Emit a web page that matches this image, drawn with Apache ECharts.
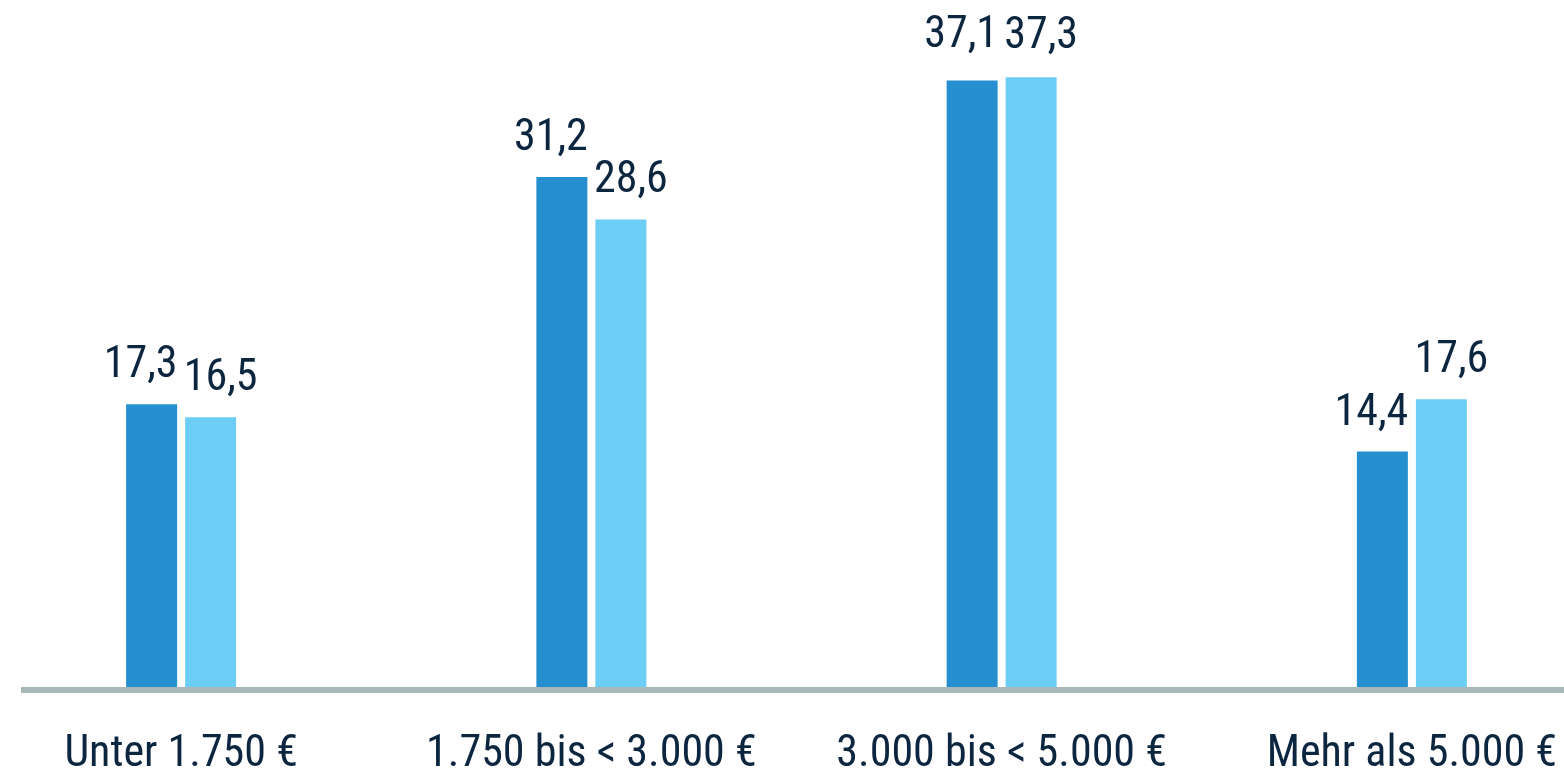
<!DOCTYPE html>
<html><head><meta charset="utf-8">
<script src="https://cdn.jsdelivr.net/npm/echarts@6/dist/echarts.min.js"></script>
<style>html,body{margin:0;padding:0;background:#fff}#main{width:1564px;height:777px}</style>
</head><body><div id="main"></div>
<script>
const categories = ['Unter 1.750 €', '1.750 bis < 3.000 €', '3.000 bis < 5.000 €', 'Mehr als 5.000 €'];
const seriesA = [17.3, 31.2, 37.1, 14.4];
const seriesB = [16.5, 28.6, 37.3, 17.6];

const FONT = '"Roboto Condensed", "Liberation Sans Narrow", Roboto, sans-serif';
const TXT = '#0c2640';
const fmt = p => String(p.value).replace('.', ',');

function items(arr, extra) {
  return arr.map((v, i) => extra[i] ? { value: v, label: { distance: extra[i] } } : v);
}

const chart = echarts.init(document.getElementById('main'), null, { renderer: 'canvas' });
chart.setOption({
  animation: false,
  grid: { left: -24, width: 1641, top: 33, bottom: 90, containLabel: false, outerBoundsMode: 'none' },
  xAxis: {
    type: 'category', data: categories,
    axisLine: { show: false }, axisTick: { show: false },
    axisLabel: { interval: 0, fontFamily: FONT, fontSize: 44, color: TXT, margin: 46 }
  },
  yAxis: { type: 'value', min: 0, max: 40, show: false, splitLine: { show: false } },
  series: [
    { type: 'bar', data: items(seriesA, [0, 0, 22, 0]), barWidth: 51, barGap: '15.7%',
      itemStyle: { color: '#258fd0' },
      label: { show: true, position: 'top', distance: 16, offset: [-11, 0], formatter: fmt, fontFamily: FONT, fontSize: 44, color: TXT } },
    { type: 'bar', data: items(seriesB, [0, 0, 18, 0]), barWidth: 51,
      itemStyle: { color: '#6ccef5' },
      label: { show: true, position: 'top', distance: 16, offset: [10, 0], formatter: fmt, fontFamily: FONT, fontSize: 44, color: TXT } }
  ],
  graphic: [{ type: 'rect', shape: { x: 21, y: 687, width: 1543, height: 6 }, style: { fill: '#a8b8b9' }, z: 10 }]
});
</script></body></html>
